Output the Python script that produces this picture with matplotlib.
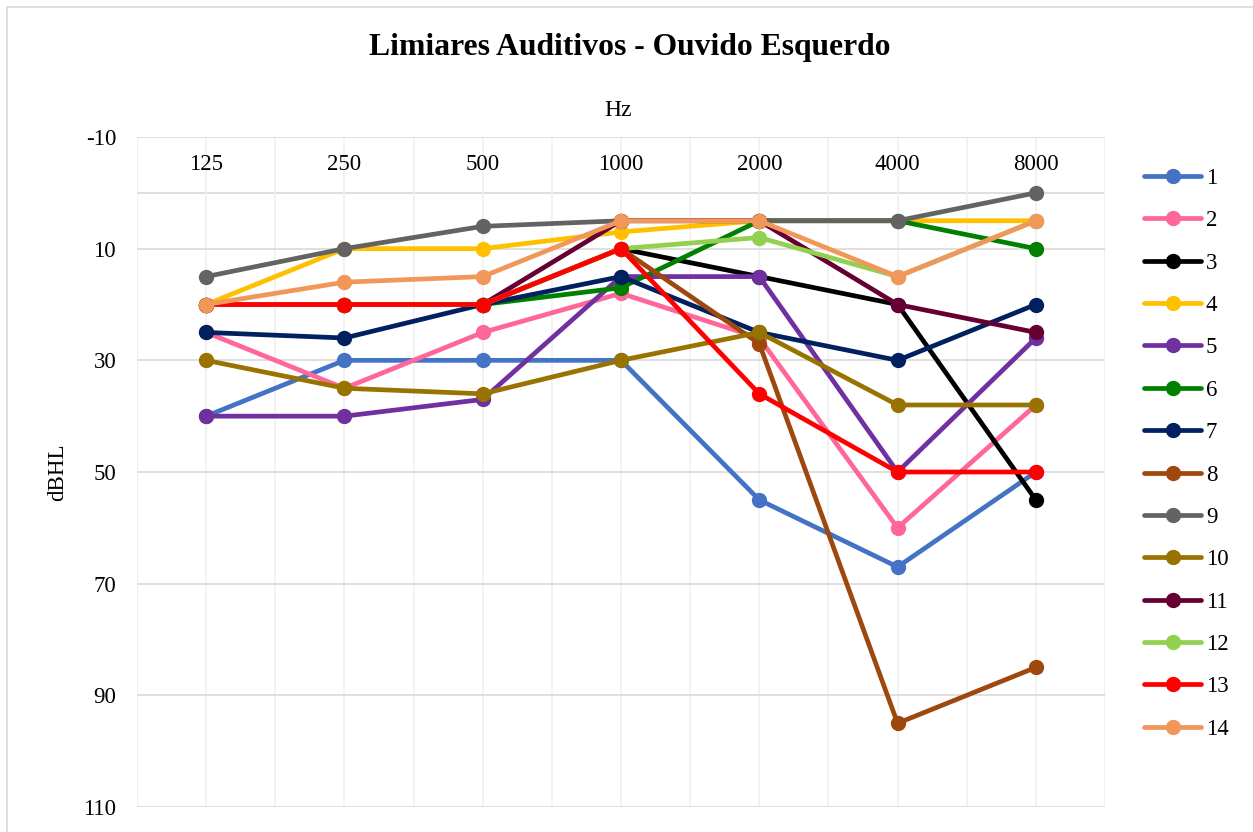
import matplotlib
matplotlib.use('Agg')
import matplotlib.pyplot as plt
from matplotlib.patches import Rectangle
import numpy as np

plt.rcParams['font.family'] = ['Liberation Serif', 'DejaVu Serif']
plt.rcParams['axes.unicode_minus'] = False

freqs = ['125', '250', '500', '1000', '2000', '4000', '8000']

s1 = [40, 30, 30, 30, 55, 67, 50]
s2 = [25, 35, 25, 18, 26, 60, 38]
s3 = [20, 20, 20, 10, 15, 20, 55]
s4 = [20, 10, 10, 7, 5, 5, 5]
s5 = [40, 40, 37, 15, 15, 50, 26]
s6 = [20, 20, 20, 17, 5, 5, 10]
s7 = [25, 26, 20, 15, 25, 30, 20]
s8 = [20, 20, 20, 10, 27, 95, 85]
s9 = [15, 10, 6, 5, 5, 5, 0]
s10 = [30, 35, 36, 30, 25, 38, 38]
s11 = [20, 20, 20, 5, 5, 20, 25]
s12 = [20, 20, 20, 10, 8, 15, 5]
s13 = [20, 20, 20, 10, 36, 50, 50]
s14 = [20, 16, 15, 5, 5, 15, 5]

series = [s1, s2, s3, s4, s5, s6, s7, s8, s9, s10, s11, s12, s13, s14]
names = [str(i) for i in range(1, 15)]
colors = ['#4472C4', '#FF6699', '#000000', '#FFC000', '#7030A0', '#008000', '#002060',
          '#9E480E', '#636363', '#997300', '#660033', '#92D050', '#FF0000', '#F1975A']

fig = plt.figure(figsize=(12.53, 8.32), dpi=100)
ax = fig.add_axes([137/1253, 1 - 807/832, (1105 - 137)/1253, (807 - 137)/832])

x = np.arange(len(freqs))
for vals, name, col in zip(series, names, colors):
    ax.plot(x, vals, color=col, lw=3.4, marker='o', ms=10, label=name,
            solid_capstyle='round')

ax.set_xlim(-0.5, len(freqs) - 0.5)
ax.set_ylim(110, -10)

# grid
ax.set_yticks(np.arange(-10, 111, 20))
ax.set_xticks([])
ax.set_xticks(np.arange(-0.5, len(freqs), 0.5), minor=True)
ax.grid(axis='y', which='major', color='#D9D9D9', lw=1.2)
ax.grid(axis='x', which='minor', color='#F0F0F0', lw=1.2)
ax.axhline(0, color='#D9D9D9', lw=1.2, zorder=0.5)
ax.set_axisbelow(True)
ax.tick_params(axis='y', length=0, pad=15, labelsize=16.5)
ax.tick_params(axis='x', which='both', length=0)
for sp in ax.spines.values():
    sp.set_visible(False)

# category labels sit between -10 and 0
for i, f in enumerate(freqs):
    ax.text(i, -5, f, ha='center', va='center', fontsize=16.5)

ax.set_ylabel('dBHL', fontsize=16.5, labelpad=11)
fig.text(618/1253, 1 - 111/832, 'Hz', ha='center', va='center', fontsize=17)
fig.text(630/1253, 1 - 48/832, 'Limiares Auditivos - Ouvido Esquerdo',
         ha='center', va='center', fontsize=22.8, fontweight='bold')

leg = ax.legend(loc='upper left', bbox_to_anchor=(1144/1253, 1 - 168/832),
                bbox_transform=fig.transFigure, frameon=False, fontsize=16.5,
                handlelength=2.5, handletextpad=0.2, labelspacing=0.93,
                borderaxespad=0, borderpad=0)

fig.patches.append(Rectangle((7/1253, -0.01), 1.0, 1 - 7/832 + 0.01,
                             transform=fig.transFigure, fill=False,
                             edgecolor='#D9D9D9', lw=1.2))

fig.savefig('out.png', dpi=100)
